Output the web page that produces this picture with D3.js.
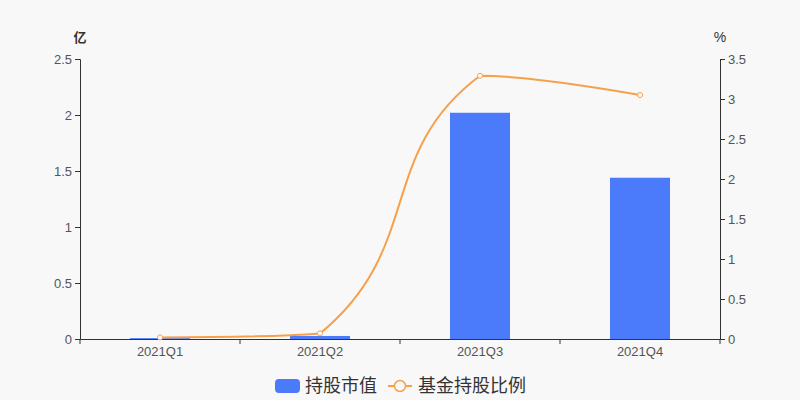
<!DOCTYPE html>
<html>
<head>
<meta charset="utf-8">
<script src="https://cdn.jsdelivr.net/npm/d3@7"></script>
<style>
  body { margin: 0; background: #f8f8f8; }
  svg { display: block; font-family: "Liberation Sans", Arial, "Noto Sans CJK SC", sans-serif; }
</style>
</head>
<body>
<div class="chartHolder"></div>
<script>
var quarters = ["2021Q1", "2021Q2", "2021Q3", "2021Q4"];
var holdValue = [0.008, 0.027, 2.02, 1.44];   // 亿
var holdRatio = [0.02, 0.07, 3.29, 3.05];     // %
var leftTicks = [0, 0.5, 1, 1.5, 2, 2.5];
var rightTicks = [0, 0.5, 1, 1.5, 2, 2.5, 3, 3.5];
var legendNames = ["持股市值", "基金持股比例"];

var svgW = 800, svgH = 400;
var margin = { top: 59, right: 80, bottom: 61, left: 80 },
    w = svgW - margin.left - margin.right,
    h = svgH - margin.top - margin.bottom;

var barColor = "#4b7bfb", lineColor = "#f7a04b", axisColor = "#333", textColor = "#555";

var svg = d3.select(".chartHolder").append("svg").attr("width", svgW).attr("height", svgH);
svg.append("rect").attr("width", svgW).attr("height", svgH).attr("fill", "#f8f8f8");

var g = svg.append("g").attr("transform", "translate(" + margin.left + "," + margin.top + ")");

var xScale = d3.scaleBand().domain(quarters).range([0, w]);
var yLeft = d3.scaleLinear().domain([0, 2.5]).range([h, 0]);
var yRight = d3.scaleLinear().domain([0, 3.5]).range([h, 0]);

// smooth line the old echarts way: smooth 0.5, control points kept inside the points' bounding box
function boxSmooth(context) {
  var pts;
  return {
    areaStart: function () {}, areaEnd: function () {},
    lineStart: function () { pts = []; },
    point: function (x, y) { pts.push([+x, +y]); },
    lineEnd: function () {
      var s = 0.5, n = pts.length;
      var minX = d3.min(pts, function (p) { return p[0]; }), maxX = d3.max(pts, function (p) { return p[0]; });
      var minY = d3.min(pts, function (p) { return p[1]; }), maxY = d3.max(pts, function (p) { return p[1]; });
      function clamp(p) {
        return [Math.max(minX, Math.min(maxX, p[0])), Math.max(minY, Math.min(maxY, p[1]))];
      }
      var cps = [];
      pts.forEach(function (p, i) {
        if (i === 0 || i === n - 1) { cps.push([p, p]); return; }
        var prev = pts[i - 1], next = pts[i + 1];
        var vx = (next[0] - prev[0]) * s, vy = (next[1] - prev[1]) * s;
        var d0 = Math.hypot(p[0] - prev[0], p[1] - prev[1]);
        var d1 = Math.hypot(p[0] - next[0], p[1] - next[1]);
        var sum = d0 + d1;
        d0 /= sum; d1 /= sum;
        cps.push([clamp([p[0] - vx * d0, p[1] - vy * d0]), clamp([p[0] + vx * d1, p[1] + vy * d1])]);
      });
      context.moveTo(pts[0][0], pts[0][1]);
      for (var i = 1; i < n; i++) {
        var a = cps[i - 1][1], b = cps[i][0];
        context.bezierCurveTo(a[0], a[1], b[0], b[1], pts[i][0], pts[i][1]);
      }
    }
  };
}

// bars
g.selectAll("rect.bar").data(holdValue).enter().append("rect").attr("class", "bar")
  .attr("x", function (d, i) { return xScale(quarters[i]) + xScale.bandwidth() / 2 - 30; })
  .attr("y", function (d) { return yLeft(d); })
  .attr("width", 60)
  .attr("height", function (d) { return h - yLeft(d); })
  .attr("fill", barColor);

// axes
var xAxis = d3.axisBottom(xScale).tickSize(0).tickPadding(8);
var xg = g.append("g").attr("transform", "translate(0," + h + ")").call(xAxis);
xg.select(".domain").attr("stroke", axisColor);
xg.selectAll("text").attr("fill", textColor).style("font-size", "13px");
xg.selectAll("line.bound").data(d3.range(quarters.length + 1)).enter().append("line").attr("class", "bound")
  .attr("x1", function (d) { return d * xScale.step(); }).attr("x2", function (d) { return d * xScale.step(); })
  .attr("y1", 0).attr("y2", 5).attr("stroke", axisColor);

var lg = g.append("g").call(d3.axisLeft(yLeft).tickValues(leftTicks).tickFormat(d3.format("~g")).tickSizeOuter(0).tickSize(5).tickPadding(3));
lg.select(".domain").attr("stroke", axisColor);
lg.selectAll("line").attr("stroke", axisColor);
lg.selectAll("text").attr("fill", textColor).style("font-size", "13px");

var rg = g.append("g").attr("transform", "translate(" + w + ",0)")
  .call(d3.axisRight(yRight).tickValues(rightTicks).tickFormat(d3.format("~g")).tickSizeOuter(0).tickSize(5).tickPadding(3));
rg.select(".domain").attr("stroke", axisColor);
rg.selectAll("line").attr("stroke", axisColor);
rg.selectAll("text").attr("fill", textColor).style("font-size", "13px");

svg.append("text").attr("x", margin.left).attr("y", 42).attr("text-anchor", "middle")
  .attr("fill", "#333").style("font-size", "13px").style("font-weight", "bold")
  .style("font-family", "'Noto Sans CJK SC'").text("亿");
svg.append("text").attr("x", margin.left + w).attr("y", 42).attr("text-anchor", "middle")
  .attr("fill", "#333").style("font-size", "14px").text("%");

// line
var line = d3.line()
  .x(function (d, i) { return xScale(quarters[i]) + xScale.bandwidth() / 2; })
  .y(function (d) { return yRight(d); })
  .curve(boxSmooth);
g.append("path").datum(holdRatio).attr("d", line).attr("fill", "none")
  .attr("stroke", lineColor).attr("stroke-width", 2);
g.selectAll("circle.pt").data(holdRatio).enter().append("circle").attr("class", "pt")
  .attr("cx", function (d, i) { return xScale(quarters[i]) + xScale.bandwidth() / 2; })
  .attr("cy", function (d) { return yRight(d); })
  .attr("r", 2.5).attr("fill", "#fff").attr("stroke", lineColor).attr("stroke-width", 1);

// legend
var leg = svg.append("g").attr("transform", "translate(275,386)");
leg.append("rect").attr("x", 0).attr("y", -7).attr("width", 25).attr("height", 14).attr("rx", 4).attr("fill", barColor);
leg.append("text").attr("x", 30).attr("y", 0).attr("dy", "0.35em").attr("fill", "#333")
  .style("font-size", "18px").style("font-family", "'Noto Sans CJK SC'").text(legendNames[0]);
leg.append("line").attr("x1", 113).attr("x2", 137).attr("y1", 0).attr("y2", 0).attr("stroke", lineColor).attr("stroke-width", 2);
leg.append("circle").attr("cx", 125).attr("cy", 0).attr("r", 5.5).attr("fill", "#f8f8f8").attr("stroke", lineColor).attr("stroke-width", 1.5);
leg.append("text").attr("x", 143).attr("y", 0).attr("dy", "0.35em").attr("fill", "#333")
  .style("font-size", "18px").style("font-family", "'Noto Sans CJK SC'").text(legendNames[1]);
</script>
</body>
</html>
